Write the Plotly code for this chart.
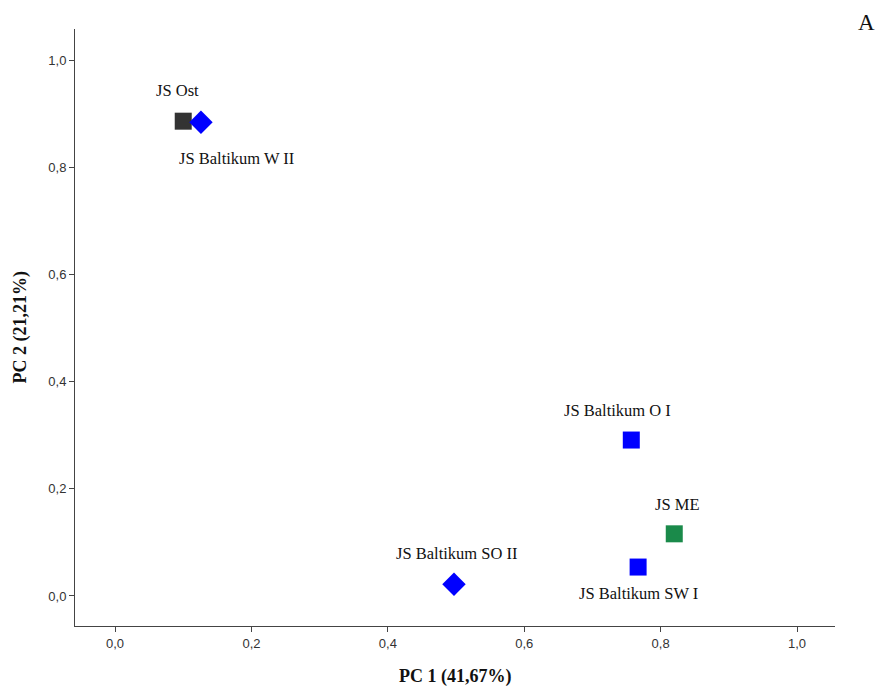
import plotly.graph_objects as go

labels = ["JS Ost", "JS Baltikum W II", "JS Baltikum O I", "JS ME", "JS Baltikum SW I", "JS Baltikum SO II"]
pc1 = [0.100, 0.126, 0.757, 0.820, 0.767, 0.497]
pc2 = [0.886, 0.884, 0.291, 0.116, 0.054, 0.022]
symbols = ["square", "diamond", "square", "square", "square", "diamond"]
colors = ["#333333", "#0000ff", "#0000ff", "#1a8a4a", "#0000ff", "#0000ff"]
sizes = [17, 18, 17, 17, 17, 18]
# label offsets in pixels relative to each marker (dx, dy)
label_dx = [-6, 36, -14, 3, 0, 3]
label_dy = [31, -36, 30, 29, -26, 31]

tick_vals = [0.0, 0.2, 0.4, 0.6, 0.8, 1.0]
tick_text = ["0,0", "0,2", "0,4", "0,6", "0,8", "1,0"]

fig = go.Figure()
fig.add_trace(go.Scatter(
    x=pc1, y=pc2, mode="markers",
    marker=dict(symbol=symbols, color=colors, size=sizes, opacity=1, line=dict(width=0)),
    opacity=1, showlegend=False, hoverinfo="text", text=labels,
))

for lab, x, y, dx, dy in zip(labels, pc1, pc2, label_dx, label_dy):
    fig.add_annotation(x=x, y=y, text=lab, showarrow=False, xshift=dx, yshift=dy,
                       font=dict(family="Liberation Serif", size=16.5, color="#111111"))

fig.add_annotation(xref="paper", yref="paper", x=1.055, y=1.0, text="A", showarrow=False,
                   xanchor="right", yanchor="bottom", yshift=-8,
                   font=dict(family="Liberation Serif", size=23, color="#111111"))

# axis titles
title_font = dict(family="Liberation Serif", size=18, color="#111111")
fig.add_annotation(xref="paper", yref="paper", x=0.5, y=0, yshift=-50, text="<b>PC 1 (41,67%)</b>",
                   showarrow=False, xanchor="center", yanchor="middle", font=title_font)
fig.add_annotation(xref="paper", yref="paper", x=0, y=0.5, xshift=-55, text="<b>PC 2 (21,21%)</b>",
                   showarrow=False, xanchor="center", yanchor="middle", textangle=-90, font=title_font)

axis_common = dict(
    showgrid=False, zeroline=False, showline=True, linecolor="#444444", linewidth=1,
    ticks="outside", ticklen=5, tickcolor="#444444", automargin=False,
    tickfont=dict(family="Liberation Sans", size=13, color="#333333"),
    tickvals=tick_vals, ticktext=tick_text, mirror=False,
)

fig.update_layout(
    width=886, height=689,
    margin=dict(l=75, r=51, t=29, b=63),
    plot_bgcolor="white", paper_bgcolor="white",
    xaxis=dict(range=[-0.0587, 1.0557], **axis_common),
    yaxis=dict(range=[-0.056, 1.058], **axis_common),
)

fig.write_html("out.html")
